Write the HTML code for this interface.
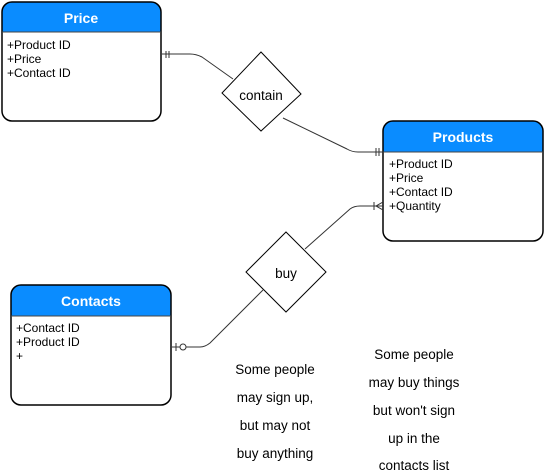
<!DOCTYPE html>
<html><head><style>
html,body{margin:0;padding:0;background:#fff;}
svg{display:block;font-family:"Liberation Sans",Helvetica,Arial,sans-serif;}
</style></head><body>
<svg width="544" height="474" viewBox="0 0 544 474" xmlns="http://www.w3.org/2000/svg">
<!-- Price -->
<path d="M2 32 V12 Q2 2 12 2 H151 Q161 2 161 12 V32 Z" fill="#0a8cff"/>
<rect x="2" y="2" width="159" height="119" rx="10" fill="none" stroke="#000" stroke-width="1.5"/>
<line x1="2" y1="32" x2="161" y2="32" stroke="#444" stroke-width="1"/>
<text x="81" y="23" text-anchor="middle" font-size="14" font-weight="bold" fill="#fff">Price</text>
<g font-size="12" fill="#000">
<text x="7" y="49">+Product ID</text><text x="7" y="63">+Price</text><text x="7" y="77">+Contact ID</text>
</g>
<!-- Products -->
<path d="M383 152 V131 Q383 121 393 121 H533 Q543 121 543 131 V152 Z" fill="#0a8cff"/>
<rect x="383" y="121" width="160" height="120" rx="10" fill="none" stroke="#000" stroke-width="1.5"/>
<line x1="383" y1="152" x2="543" y2="152" stroke="#444"/>
<text x="463" y="142" text-anchor="middle" font-size="14" font-weight="bold" fill="#fff">Products</text>
<g font-size="12" fill="#000">
<text x="389" y="168">+Product ID</text><text x="389" y="182">+Price</text><text x="389" y="196">+Contact ID</text><text x="389" y="210">+Quantity</text>
</g>
<!-- Contacts -->
<path d="M11 316 V295 Q11 285 21 285 H161 Q171 285 171 295 V316 Z" fill="#0a8cff"/>
<rect x="11" y="285" width="160" height="120" rx="10" fill="none" stroke="#000" stroke-width="1.5"/>
<line x1="11" y1="316" x2="171" y2="316" stroke="#444"/>
<text x="91" y="306" text-anchor="middle" font-size="14" font-weight="bold" fill="#fff">Contacts</text>
<g font-size="12" fill="#000">
<text x="16" y="332">+Contact ID</text><text x="16" y="346">+Product ID</text><text x="16" y="360">+</text>
</g>
<!-- diamonds -->
<polygon points="261,52 301,94 261,131 222,93" fill="#fff" stroke="#000"/>
<text x="261" y="100" text-anchor="middle" font-size="13.5">contain</text>
<polygon points="286,232 326,272 286,312 246,272" fill="#fff" stroke="#000"/>
<text x="286" y="278" text-anchor="middle" font-size="13.5">buy</text>
<!-- connectors -->
<g fill="none" stroke="#333" stroke-width="1">
<path d="M162 54 H190 Q196 54 202 57 L233 79"/>
<line x1="166" y1="51" x2="166" y2="58"/><line x1="169" y1="51" x2="169" y2="58"/>
<path d="M283 118 L347 149 Q352 152 358 152 H383"/>
<line x1="376" y1="148" x2="376" y2="156"/><line x1="379" y1="148" x2="379" y2="156"/>
<path d="M305 249 L350 209 Q354 206 360 206 H383"/>
<line x1="374" y1="202" x2="374" y2="210"/><path d="M383 202 L376 206 L383 210"/>
<path d="M172 347 H200 Q205 347 210 343 L263 290"/>
<line x1="176" y1="343" x2="176" y2="351"/>
<circle cx="183" cy="347" r="3" fill="#fff"/>
</g>
<!-- notes -->
<g font-size="13.5" text-anchor="middle" fill="#000">
<text x="275" y="374">Some people</text><text x="275" y="402">may sign up,</text><text x="275" y="430">but may not</text><text x="275" y="458">buy anything</text>
<text x="414" y="359">Some people</text><text x="414" y="387">may buy things</text><text x="414" y="415">but won't sign</text><text x="414" y="443">up in the</text><text x="414" y="470">contacts list</text>
</g>
</svg>
</body></html>
